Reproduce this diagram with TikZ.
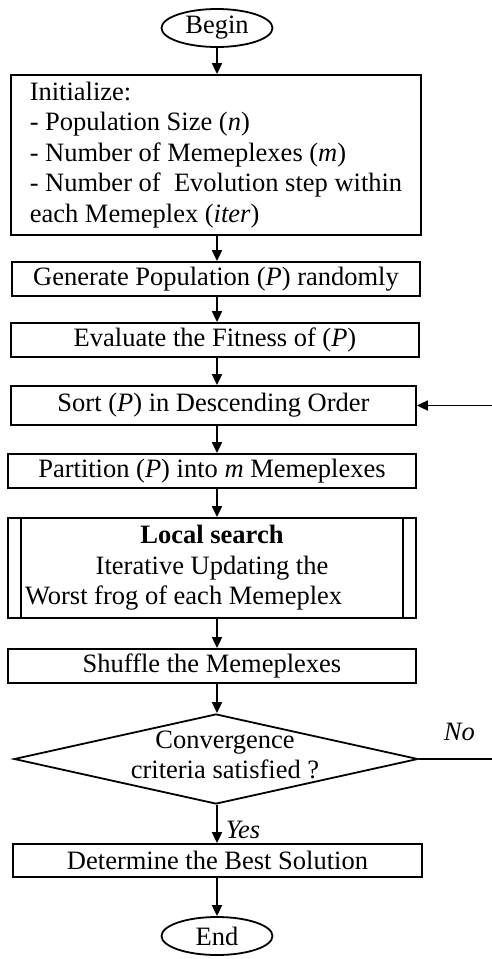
\documentclass[tikz,border=0pt]{standalone}
\usepackage{fontspec}
\setmainfont{Liberation Serif}
\usetikzlibrary{arrows.meta,positioning,shapes.geometric}
\tikzset{
  term/.style={draw,ellipse,minimum width=111pt,minimum height=38pt,inner sep=0pt},
  box/.style={draw,minimum width=#1,minimum height=34pt,inner sep=3pt},
  box/.default={408pt},
  sub/.style={box=408pt,minimum height=100pt,text width=374pt,align=flush center,
    path picture={\draw([xshift=13pt]path picture bounding box.north west)--([xshift=13pt]path picture bounding box.south west);
                  \draw([xshift=-13pt]path picture bounding box.north east)--([xshift=-13pt]path picture bounding box.south east);}},
  dec/.style={draw,diamond,aspect=4.5,minimum width=404pt,minimum height=90pt,inner sep=0pt},
  arr/.style={-{Triangle[length=11pt,width=10pt]}},
  lbl/.style={font=\fontsize{26.5}{30}\selectfont\itshape},
}
\begin{document}
\begin{tikzpicture}[x=1pt,y=-1pt,line width=1.8pt,every node/.style={font=\fontsize{26.5}{30.5}\selectfont}]
 \useasboundingbox (0,0) rectangle (492,959);
 \coordinate (ax) at (217,0);
 \node[term] (begin) at (217,28) {Begin};
 \node[box=410pt,minimum height=160pt,align=left] (init) at (216,155) {Initialize:\\- Population Size (\textit{n})\\- Number of Memeplexes (\textit{m})\\- Number of~ Evolution step within\\each Memeplex (\textit{iter})};
 \node[box] (gen) at (216,279) {Generate Population (\textit{P}) randomly};
 \node[box] (eval) at (215,340) {Evaluate the Fitness of (\textit{P})};
 \node[box=405pt,minimum height=39pt] (sort) at (213.5,405.5) {Sort (\textit{P}) in Descending Order};
 \node[box] (part) at (212,471) {Partition (\textit{P}) into \textit{m} Memeplexes};
 \node[sub] (local) at (212,568) {\textbf{Local search}\\Iterative Updating the\\\makebox[374pt][l]{Worst frog of each Memeplex}};
 \node[box] (shuf) at (212,666) {Shuffle the Memeplexes};
 \node[dec] (conv) at (216,759) {};
 \node[align=center,inner sep=0pt] (convtxt) at (225,755) {Convergence\\criteria satisfied ?};
 \node[box=409pt,minimum height=33pt] (best) at (217.5,860.5) {Determine the Best Solution};
 \node[term] (end) at (217,936) {End};
 \draw[arr](ax|-begin.south)--(ax|-init.north);
 \draw[arr](ax|-init.south)--(ax|-gen.north);
 \draw[arr](ax|-gen.south)--(ax|-eval.north);
 \draw[arr](ax|-eval.south)--(ax|-sort.north);
 \draw[arr](ax|-sort.south)--(ax|-part.north);
 \draw[arr](ax|-part.south)--(ax|-local.north);
 \draw[arr](ax|-local.south)--(ax|-shuf.north);
 \draw[arr](ax|-shuf.south)--(ax|-conv.north);
 \draw[arr](ax|-conv.south)--node[right=6pt,pos=0.65,lbl,inner sep=2pt]{Yes}(ax|-best.north);
 \draw[arr](ax|-best.south)--(ax|-end.north);
 \coordinate (back) at (500,759);
 \draw[arr](conv.east)--node[above=14pt,lbl]{No}(back)|-(sort.east);
\end{tikzpicture}
\end{document}
